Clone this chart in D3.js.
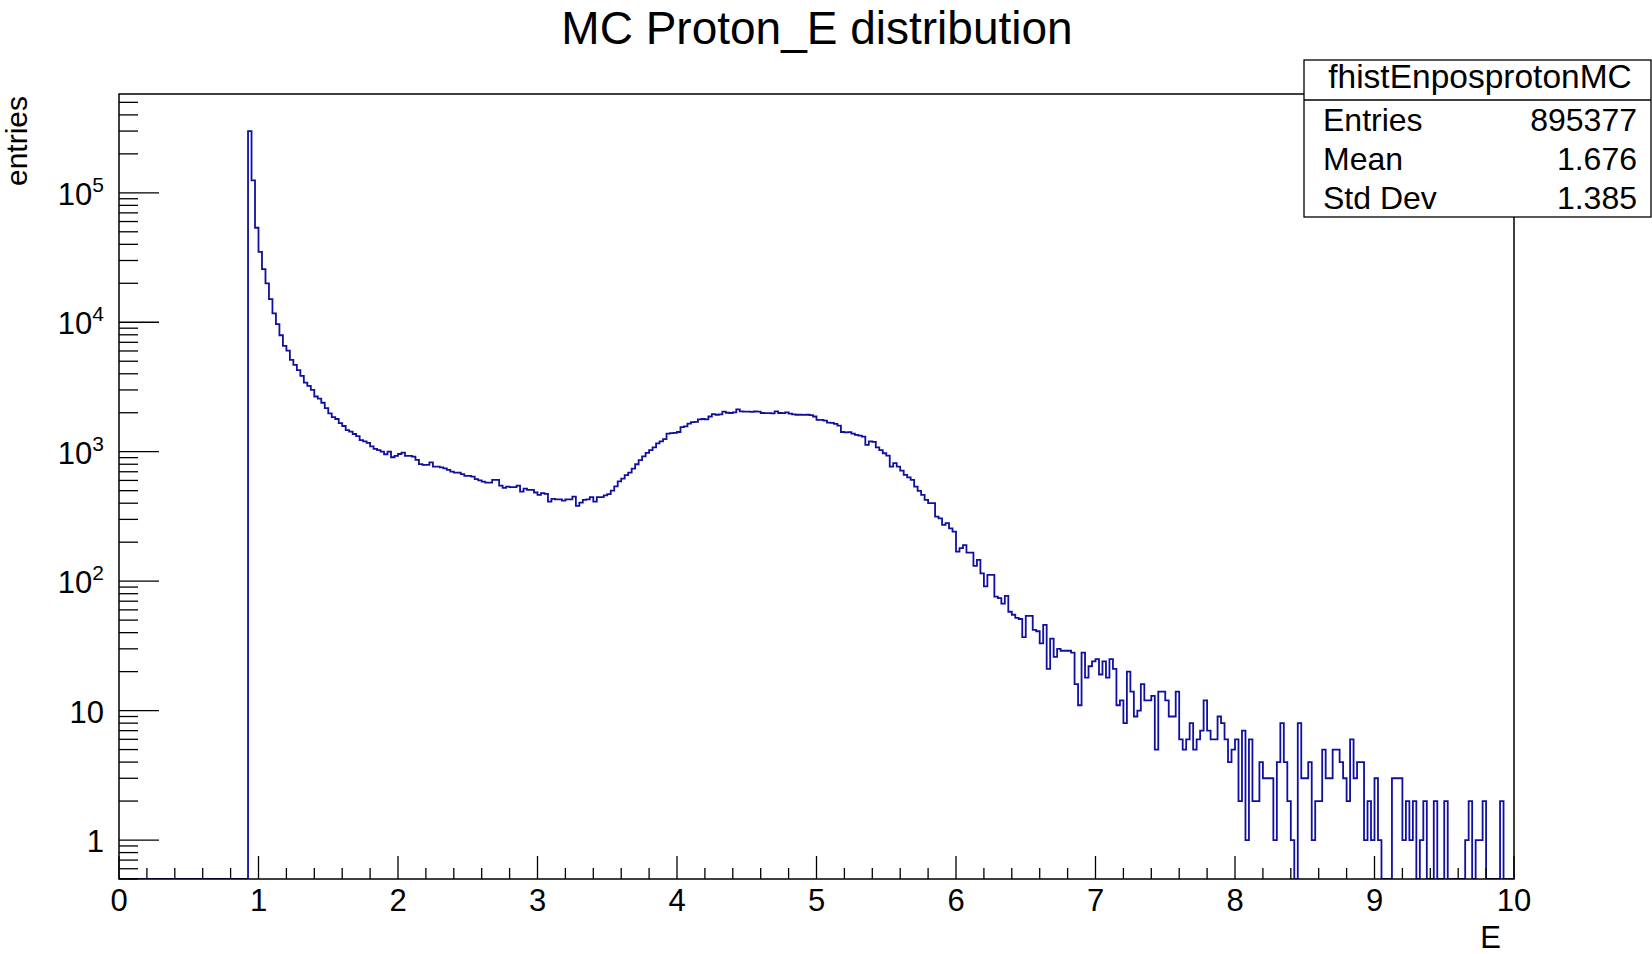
<!DOCTYPE html>
<html>
<head>
<meta charset="utf-8"/>
<title>MC Proton_E distribution</title>
<style>
body { margin: 0; background: #fff; }
svg text { font-family: "Liberation Sans", Arial, sans-serif; fill: #000; }
</style>
</head>
<body>
<div id="chart"></div>
<script src="https://d3js.org/d3.v7.min.js"></script>
<script>

// histogram: 400 bins from xLow to xHigh (bin contents)
var xLow = 0, xHigh = 10;
var counts = [
  0,0,0,0,0,0,0,0,0,0,
  0,0,0,0,0,0,0,0,0,0,
  0,0,0,0,0,0,0,0,0,0,
  0,0,0,0,0,0,0,300000,125000,53700,
  35000,25700,20000,15100,11700,9660,7940,6570,6040,5120,
  4690,4270,3850,3420,3220,3000,2670,2570,2390,2170,
  1980,1850,1790,1660,1580,1470,1430,1370,1320,1230,
  1200,1170,1100,1050,1030,1000,956,1000,906,930,
  960,985,929,929,917,865,801,791,791,826,
  767,767,758,744,723,702,690,690,670,650,
  650,642,613,600,587,577,577,605,605,546,
  525,538,533,533,546,492,519,507,507,484,
  464,478,472,412,432,429,429,419,429,429,
  450,381,404,424,429,445,412,445,445,460,
  470,500,540,590,620,660,690,740,800,860,
  920,980,1030,1080,1160,1200,1250,1380,1390,1400,
  1420,1550,1570,1650,1690,1700,1780,1790,1780,1870,
  1950,1930,1940,2040,2000,1990,2010,2120,2050,2040,
  2040,2030,2045,2040,1990,1985,1985,1980,2050,1990,
  1985,2010,1970,1940,1930,1930,1925,1930,1920,1870,
  1760,1760,1740,1680,1670,1640,1590,1420,1410,1415,
  1380,1350,1330,1310,1130,1200,1190,1080,1030,973,
  933,767,815,767,715,662,634,605,538,498,
  464,424,400,400,315,306,272,281,256,241,
  169,180,190,166,166,131,146,115,91,112,
  112,76,74,67,77,58,55,52,51,37,
  54,54,42,41,33,46,21,36,26,30,
  29,29,29,28,16,11,28,18,22,24,
  25,19,24,18,25,21,11,12,8,20,
  14,9,10,16,12,12,13,5,14,14,
  12,9,9,14,6,5,6,8,5,6,
  7,12,7,6,6,9,8,6,4,5,
  6,2,7,1,6,2,2,4,3,3,
  3,1,4,8,4,2,1,0,8,3,
  3,4,1,2,2,5,3,3,5,5,
  4,3,2,6,3,4,4,1,2,1,
  3,1,0,0,0,3,3,3,1,2,
  1,2,0,1,2,0,0,2,0,0,
  2,0,0,0,0,0,1,2,0,1,
  1,2,0,0,0,0,2,0,0,0
];

var xTicks = [0,1,2,3,4,5,6,7,8,9,10];
var xTickLabels = ["0","1","2","3","4","5","6","7","8","9","10"];
var yMajorTicks = [1,10,100,1000,10000,100000];
var yTickBase = ["1","10","10","10","10","10"];
var yTickExp = ["","","2","3","4","5"];

var titleText = "MC Proton_E distribution";
var xTitle = "E";
var yTitle = "entries";
var statsTitle = "fhistEnposprotonMC";
var statsNames = ["Entries","Mean","Std Dev"];
var statsValues = ["895377","1.676","1.385"];

var width = 1652, height = 954;
var frame = {left: 119, right: 1514, top: 94, bottom: 879};
var yMin = 0.5, yMax = 5.8e5;

var svg = d3.select("#chart").append("svg")
    .attr("width", width)
    .attr("height", height);

var x = d3.scaleLinear().domain([xLow, xHigh]).range([frame.left, frame.right]);
var y = d3.scaleLog().domain([yMin, yMax]).range([frame.bottom, frame.top]);

// clip to the frame
svg.append("clipPath").attr("id", "clip")
  .append("rect")
    .attr("x", frame.left).attr("y", frame.top)
    .attr("width", frame.right - frame.left)
    .attr("height", frame.bottom - frame.top);

// histogram outline (empty bins go down to the frame bottom)
var bw = (xHigh - xLow) / counts.length;
var pts = counts.map(function(c, i) { return [xLow + i * bw, c]; });
pts.push([xHigh, counts[counts.length - 1]]);

var line = d3.line()
  .x(function(d) { return x(d[0]); })
  .y(function(d) { return y(Math.max(d[1], yMin)); })
  .curve(d3.curveStepAfter);

svg.append("path")
  .datum(pts)
  .attr("clip-path", "url(#clip)")
  .attr("d", line)
  .attr("fill", "none")
  .attr("stroke", "#1010a0")
  .attr("stroke-width", 1.8);

// x ticks: majors at integers, minors every 0.2
var xMinor = d3.range(0, 50.5).map(function(k) { return k / 5; });
svg.append("g").selectAll("line")
  .data(xMinor)
  .enter().append("line")
    .attr("x1", function(d) { return x(d); })
    .attr("x2", function(d) { return x(d); })
    .attr("y1", frame.bottom)
    .attr("y2", function(d, i) { return frame.bottom - (i % 5 === 0 ? 23 : 11); })
    .attr("stroke", "#000")
    .attr("stroke-width", 1.3);

svg.append("g").selectAll("text")
  .data(xTicks)
  .enter().append("text")
    .attr("x", function(d) { return x(d); })
    .attr("y", 911)
    .attr("text-anchor", "middle")
    .style("font-size", "31px")
    .text(function(d, i) { return xTickLabels[i]; });

// y ticks (log): long at decades, short at 2..9
svg.append("g").selectAll("line")
  .data(y.ticks())
  .enter().append("line")
    .attr("x1", frame.left)
    .attr("x2", function(d) {
      var isMajor = yMajorTicks.indexOf(d) >= 0;
      return frame.left + (isMajor ? 40 : 19);
    })
    .attr("y1", function(d) { return y(d); })
    .attr("y2", function(d) { return y(d); })
    .attr("stroke", "#000")
    .attr("stroke-width", 1.3);

var yl = svg.append("g").selectAll("text")
  .data(yMajorTicks)
  .enter().append("text")
    .attr("x", 104)
    .attr("y", function(d) { return y(d) + 12; })
    .attr("text-anchor", "end")
    .style("font-size", "31px");
yl.append("tspan").text(function(d, i) { return yTickBase[i]; });
yl.append("tspan")
    .attr("dy", -13)
    .style("font-size", "21px")
    .text(function(d, i) { return yTickExp[i]; });

// frame
svg.append("rect")
  .attr("x", frame.left).attr("y", frame.top)
  .attr("width", frame.right - frame.left)
  .attr("height", frame.bottom - frame.top)
  .attr("fill", "none")
  .attr("stroke", "#000")
  .attr("stroke-width", 1.5);

// titles
svg.append("text")
  .attr("x", 817).attr("y", 44)
  .attr("text-anchor", "middle")
  .style("font-size", "46px")
  .text(titleText);

svg.append("text")
  .attr("x", 1501).attr("y", 948)
  .attr("text-anchor", "end")
  .style("font-size", "31px")
  .text(xTitle);

svg.append("text")
  .attr("transform", "translate(27,96) rotate(-90)")
  .attr("text-anchor", "end")
  .style("font-size", "30px")
  .text(yTitle);

// stats box
var box = {left: 1304, right: 1651, top: 60, head: 100, bottom: 217};
svg.append("rect")
  .attr("x", box.left).attr("y", box.top)
  .attr("width", box.right - box.left)
  .attr("height", box.bottom - box.top)
  .attr("fill", "#fff")
  .attr("stroke", "#000")
  .attr("stroke-width", 1.3);
svg.append("line")
  .attr("x1", box.left).attr("x2", box.right)
  .attr("y1", box.head).attr("y2", box.head)
  .attr("stroke", "#000")
  .attr("stroke-width", 1.3);
svg.append("text")
  .attr("x", 1480).attr("y", 88)
  .attr("text-anchor", "middle")
  .style("font-size", "33.5px")
  .text(statsTitle);

var rowY = [131, 170, 209];
statsNames.forEach(function(name, i) {
  svg.append("text")
    .attr("x", 1323).attr("y", rowY[i])
    .style("font-size", "32px")
    .text(name);
  svg.append("text")
    .attr("x", 1637).attr("y", rowY[i])
    .attr("text-anchor", "end")
    .style("font-size", "32px")
    .text(statsValues[i]);
});

</script>
</body>
</html>
